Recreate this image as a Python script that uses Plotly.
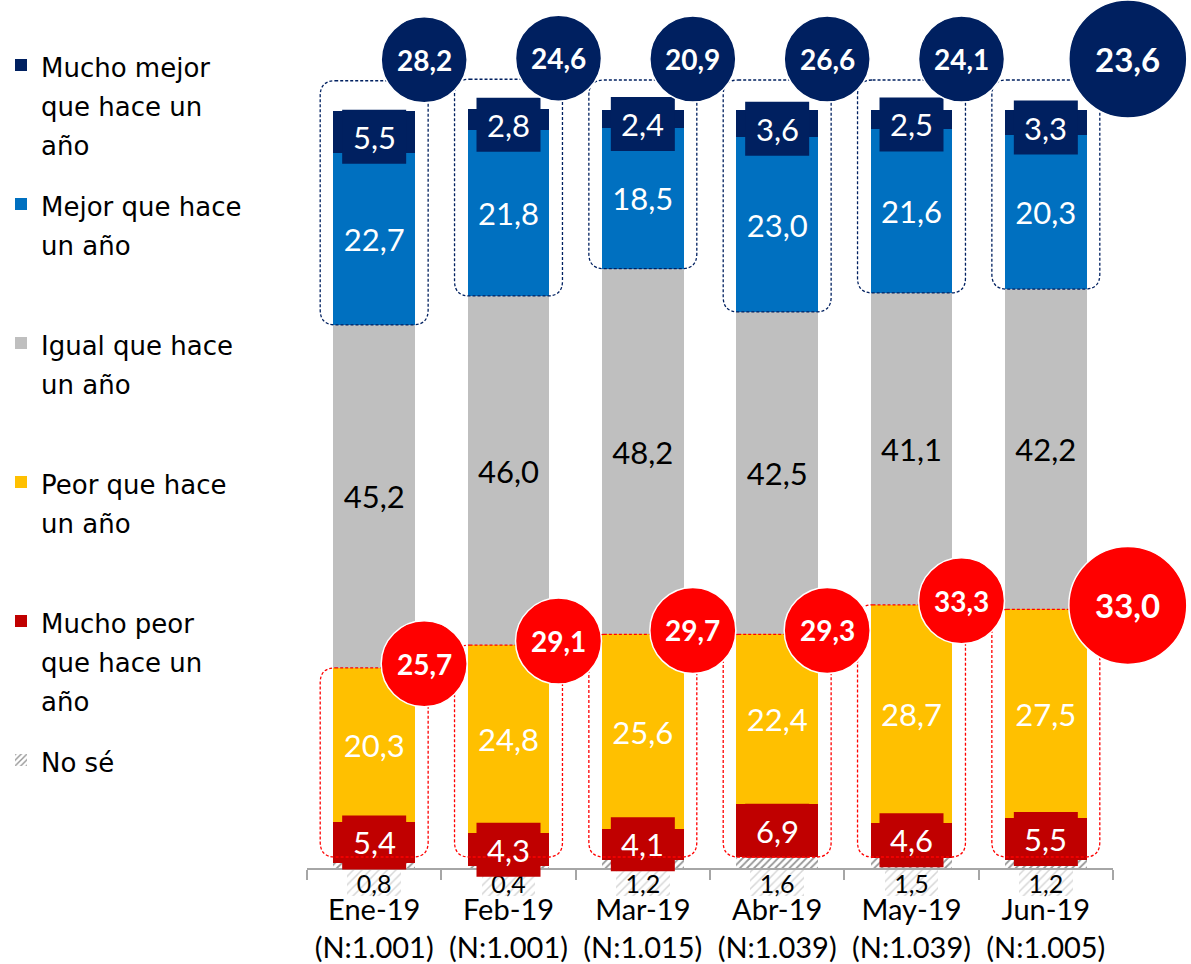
import plotly.graph_objects as go

# ---------------- data ----------------
categories = ["Ene-19", "Feb-19", "Mar-19", "Abr-19", "May-19", "Jun-19"]
sample_sizes = ["1.001", "1.001", "1.015", "1.039", "1.039", "1.005"]
mucho_mejor = [5.5, 2.8, 2.4, 3.6, 2.5, 3.3]
mejor = [22.7, 21.8, 18.5, 23.0, 21.6, 20.3]
igual = [45.2, 46.0, 48.2, 42.5, 41.1, 42.2]
peor = [20.3, 24.8, 25.6, 22.4, 28.7, 27.5]
mucho_peor = [5.4, 4.3, 4.1, 6.9, 4.6, 5.5]
no_se = [0.8, 0.4, 1.2, 1.6, 1.5, 1.2]

series_names = {
    "mm": ["Mucho mejor", "que hace un", "año"],
    "m": ["Mejor que hace", "un año", "\u00a0"],
    "i": ["Igual que hace", "un año", "\u00a0"],
    "p": ["Peor que hace", "un año", "\u00a0"],
    "mp": ["Mucho peor", "que hace un", "año"],
    "ns": ["No sé", "\u00a0", "\u00a0"],
}
legend_rank = {"mm": 1, "m": 2, "i": 3, "p": 4, "mp": 5, "ns": 6}

# ---------------- style ----------------
NAVY, BLUE, GRAY, YELLOW, DARKRED, RED = "#002060", "#0070C0", "#BFBFBF", "#FFC000", "#C00000", "#FF0000"
AXIS_GRAY = "#A6A6A6"
FONT = "Lato"
W, H = 1191, 964
ML, MR, MT, MB = 307, 0, 0, 64
N = len(categories)
AX_RIGHT_PX = 1113                 # right end of the category axis
PXX = (AX_RIGHT_PX - ML) / N       # pixels per category
PLOT_W, PLOT_H = W - ML - MR, H - MT - MB
Y0_PX = 869            # pixel row of the baseline
PXY = 7.59             # pixels per percentage point
y_top = (Y0_PX - MT) / PXY
y_bot = -(MT + PLOT_H - Y0_PX) / PXY
x_max = -0.5 + PLOT_W / PXX
BAR_W = 0.61
circle_sizes = [86, 86, 86, 86, 86, 118]


def fmt(v):
    return f"{v:.1f}".replace(".", ",")


def legend_name(lines):
    return "<br>".join(f'<span style="font-size:26px">{l}</span>' for l in lines)


x = list(range(N))
fig = go.Figure()

hatch_dark = dict(shape="/", fgcolor="#303030", bgcolor="white", size=5, solidity=0.35)
hatch_light = dict(shape="/", fgcolor="#B0B0B0", bgcolor="white", size=6, solidity=0.25)

stack = [
    ("ns", no_se, dict(color="white", pattern=hatch_dark), None, None),
    ("mp", mucho_peor, dict(color=DARKRED), None, None),
    ("p", peor, dict(color=YELLOW), "white", "%{y:.1f}"),
    ("i", igual, dict(color=GRAY), "black", "%{y:.1f}"),
    ("m", mejor, dict(color=BLUE), "white", "%{y:.1f}"),
    ("mm", mucho_mejor, dict(color=NAVY), None, None),
]
for key, vals, marker, tcolor, ttpl in stack:
    fig.add_trace(go.Bar(
        x=x, y=vals, name=legend_name(series_names[key]), legendgroup=key,
        legendrank=legend_rank[key],
        marker=dict(line=dict(width=0), **marker),
        texttemplate=ttpl if ttpl else None,
        textposition="inside" if ttpl else "none",
        insidetextanchor="middle", constraintext="none",
        textfont=dict(family=FONT, size=31, color=tcolor or "white"),
        hoverinfo="skip",
    ))

# hatched label backgrounds for "No sé" (drawn under the baseline)
LBL_H = 27 / PXY
fig.add_trace(go.Bar(
    x=x, y=[LBL_H] * N, base=[-LBL_H] * N, width=0.4,
    marker=dict(color="white", pattern=hatch_light, line=dict(width=0)),
    text=[fmt(v) for v in no_se], textposition="inside", insidetextanchor="middle",
    constraintext="none", cliponaxis=False,
    textfont=dict(family=FONT, size=25, color="black"),
    showlegend=False, hoverinfo="skip",
))

shapes, annotations = [], []

# category axis baseline
shapes.append(dict(type="line", xref="x", yref="y", x0=-0.5, x1=N - 0.5, y0=0, y1=0,
                   line=dict(color=AXIS_GRAY, width=2), layer="above"))

# label boxes for "Mucho peor" and "Mucho mejor"
for i in x:
    c_mp = no_se[i] + mucho_peor[i] / 2
    top_all = no_se[i] + mucho_peor[i] + peor[i] + igual[i] + mejor[i] + mucho_mejor[i]
    c_mm = top_all - mucho_mejor[i] / 2 - 5 / PXY
    for cy, col, val in [(c_mp, DARKRED, mucho_peor[i]), (c_mm, NAVY, mucho_mejor[i])]:
        shapes.append(dict(type="rect", xref="x", yref="y", xsizemode="pixel", ysizemode="pixel",
                           xanchor=i, yanchor=cy, x0=-32, x1=32, y0=-27, y1=27,
                           fillcolor=col, line=dict(width=0), layer="above"))
        annotations.append(dict(x=i, y=cy, xref="x", yref="y", text=fmt(val), showarrow=False,
                                font=dict(family=FONT, size=31, color="white")))


def rrect(x0, x1, y0, y1, r_px=15):
    rx, ry = r_px / PXX, r_px / PXY
    return (f"M{x0+rx},{y1} L{x1-rx},{y1} Q{x1},{y1} {x1},{y1-ry} L{x1},{y0+ry} "
            f"Q{x1},{y0} {x1-rx},{y0} L{x0+rx},{y0} Q{x0},{y0} {x0},{y0+ry} "
            f"L{x0},{y1-ry} Q{x0},{y1} {x0+rx},{y1} Z")


half_box = (BAR_W * PXX / 2 + 13) / PXX
for i in x:
    top_all = no_se[i] + mucho_peor[i] + peor[i] + igual[i] + mejor[i] + mucho_mejor[i]
    blue_bottom = no_se[i] + mucho_peor[i] + peor[i] + igual[i]
    peor_top = no_se[i] + mucho_peor[i] + peor[i]
    shapes.append(dict(type="path", xref="x", yref="y", layer="above",
                       path=rrect(i - half_box, i + half_box, blue_bottom, top_all + 30 / PXY),
                       line=dict(color=NAVY, width=1.3, dash="3px,2px")))
    shapes.append(dict(type="path", xref="x", yref="y", layer="above",
                       path=rrect(i - half_box, i + half_box, 12 / PXY, peor_top),
                       line=dict(color=RED, width=1.3, dash="3px,2px")))

# total circles
for i in x:
    s = circle_sizes[i]
    r = s / 2
    dx = (s - 36) / PXX
    top_all = no_se[i] + mucho_peor[i] + peor[i] + igual[i] + mejor[i] + mucho_mejor[i]
    peor_top = no_se[i] + mucho_peor[i] + peor[i]
    fs = 28 if s < 100 else 33
    for cy, col, val in [(top_all + 51 / PXY, NAVY, mucho_mejor[i] + mejor[i]),
                         (peor_top + 4 / PXY, RED, mucho_peor[i] + peor[i])]:
        shapes.append(dict(type="circle", xref="x", yref="y", xsizemode="pixel", ysizemode="pixel",
                           xanchor=i + dx, yanchor=cy, x0=-r, x1=r, y0=-r, y1=r,
                           fillcolor=col, line=dict(color="white", width=1.5), layer="above"))
        annotations.append(dict(x=i + dx, y=cy, xref="x", yref="y", text=f"<b>{fmt(val)}</b>",
                                showarrow=False, font=dict(family=FONT, size=fs, color="white")))

fig.update_layout(
    width=W, height=H, margin=dict(l=ML, r=MR, t=MT, b=MB, autoexpand=False),
    paper_bgcolor="white", plot_bgcolor="white",
    barmode="stack", bargap=1 - BAR_W, separators=",.",
    shapes=shapes, annotations=annotations,
    font=dict(family=FONT, color="black"),
    xaxis=dict(range=[-0.5, x_max], tickmode="array", tickvals=x,
               ticktext=[f"{c}<br>(N:{n})" for c, n in zip(categories, sample_sizes)],
               ticks="", showline=False,
               anchor="free", position=(MT + PLOT_H - Y0_PX) / PLOT_H,
               tickfont=dict(family=FONT, size=29, color="black"), ticklabelstandoff=21,
               minor=dict(tickvals=[k - 0.5 for k in range(N + 1)], ticks="outside",
                          ticklen=10, tickwidth=2, tickcolor=AXIS_GRAY),
               showgrid=False, zeroline=False, fixedrange=True),
    yaxis=dict(range=[y_bot, y_top], visible=False, fixedrange=True),
    legend=dict(x=-(ML - 1) / PLOT_W, xanchor="left", y=1 - 39 / PLOT_H, yanchor="top",
                traceorder="grouped", tracegroupgap=19, valign="top", itemwidth=30,
                font=dict(family="DejaVu Sans", size=30, color="black"),
                bgcolor="rgba(0,0,0,0)"),
)

fig.write_html("out.html", config={"displayModeBar": False},
               post_script="document.body.style.margin='0px';")
